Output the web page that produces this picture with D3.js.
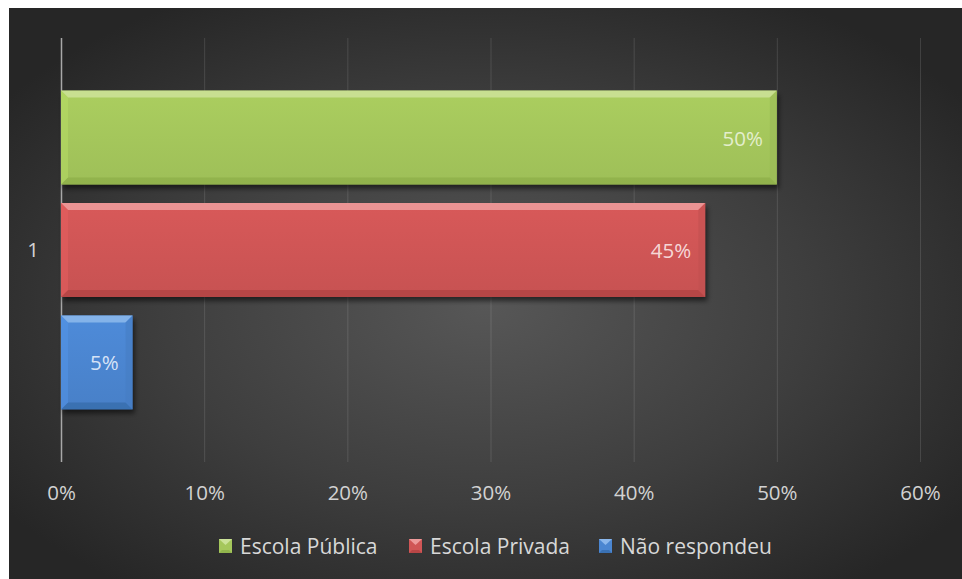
<!DOCTYPE html>
<html>
<head>
<meta charset="utf-8">
<script src="https://cdn.jsdelivr.net/npm/d3@7"></script>
<style>
  html, body { margin: 0; padding: 0; background: #ffffff; }
  svg { display: block; }
</style>
</head>
<body>
<svg id="chart" width="962" height="579"></svg>
<script>
// Share of answers per school type, one category ("1")
const categories = ["1"];
const seriesNames = ["Escola Pública", "Escola Privada", "Não respondeu"];
const seriesValues = [0.50, 0.45, 0.05];
const tickValues = [0, 0.1, 0.2, 0.3, 0.4, 0.5, 0.6];

const palette = [
  { base: "#a5c75c", light: "#cfe49e", dark: "#86a843", text: "rgba(240,246,225,0.85)" },
  { base: "#d05656", light: "#f0a2a2", dark: "#a83c3c", text: "rgba(252,232,232,0.9)" },
  { base: "#4b86d1", light: "#92bdee", dark: "#2f649f", text: "rgba(232,240,252,0.9)" }
];

const FONT = "'Open Sans', Lato, sans-serif";
const svg = d3.select("#chart");
const W = 962, H = 579;
const defs = svg.append("defs");

// Dark radial backdrop
const bg = defs.append("radialGradient").attr("id", "bgGrad")
  .attr("cx", "50%").attr("cy", "52%").attr("r", "62%");
bg.append("stop").attr("offset", "0%").attr("stop-color", "#575757");
bg.append("stop").attr("offset", "55%").attr("stop-color", "#3e3e3e");
bg.append("stop").attr("offset", "100%").attr("stop-color", "#262626");

svg.append("rect").attr("x", 9).attr("y", 8).attr("width", W - 9).attr("height", H - 8)
  .attr("fill", "url(#bgGrad)");

// Bar fill gradients and soft shadow filter
palette.forEach((c, i) => {
  const g = defs.append("linearGradient").attr("id", "barGrad" + i)
    .attr("x1", 0).attr("y1", 0).attr("x2", 0).attr("y2", 1);
  g.append("stop").attr("offset", "0%").attr("stop-color", d3.color(c.base).brighter(0.1));
  g.append("stop").attr("offset", "100%").attr("stop-color", d3.color(c.base).darker(0.12));
});
const blur = defs.append("filter").attr("id", "shadow")
  .attr("x", "-10%").attr("y", "-10%").attr("width", "120%").attr("height", "140%");
blur.append("feGaussianBlur").attr("stdDeviation", 2.5);

const margin = { left: 61, right: 42, top: 38, bottom: 117 };
const x = d3.scaleLinear().domain([0, 0.6]).range([margin.left, W - margin.right]);
const y0 = d3.scaleBand().domain(categories).range([margin.top, H - margin.bottom]).paddingInner(0).paddingOuter(0.165);
const y1 = d3.scaleBand().domain(seriesNames).range([0, y0.bandwidth()]).paddingInner(0.164);

// Vertical gridlines
const grid = svg.append("g").attr("class", "grid")
  .attr("transform", `translate(0,${H - margin.bottom})`)
  .call(d3.axisBottom(x).tickValues(tickValues).tickSize(-(H - margin.bottom - margin.top)).tickFormat(""));
grid.select(".domain").remove();
grid.selectAll("line").attr("stroke", "rgba(255,255,255,0.12)").attr("stroke-width", 1);
grid.selectAll(".tick").filter(d => d === 0).select("line")
  .attr("stroke", "#a8a8a8").attr("stroke-width", 1.5);

// Tick labels
const xAxis = svg.append("g")
  .attr("transform", `translate(0,${H - margin.bottom})`)
  .call(d3.axisBottom(x).tickValues(tickValues).tickSize(0).tickPadding(23).tickFormat(d3.format(".0%")));
xAxis.select(".domain").remove();
xAxis.selectAll("text").attr("fill", "#d2d2d2").style("font-family", FONT).style("font-size", "20.5px");

// Category label
const yAxis = svg.append("g").attr("transform", `translate(${margin.left},0)`)
  .call(d3.axisLeft(y0).tickSize(0).tickPadding(22));
yAxis.select(".domain").remove();
yAxis.selectAll("text").attr("fill", "#d2d2d2").style("font-family", FONT).style("font-size", "20.5px");

// Bars with bevelled edges
const bevel = 7;
const group = svg.append("g").attr("transform", `translate(0,${y0(categories[0])})`);
seriesNames.forEach((name, i) => {
  const v = seriesValues[i];
  const c = palette[i];
  const xa = x(0), xb = x(v);
  const ya = y1(name), yb = ya + y1.bandwidth();
  const g = group.append("g");

  g.append("rect").attr("x", xa + 2).attr("y", ya + 4).attr("width", xb - xa).attr("height", yb - ya)
    .attr("fill", "rgba(0,0,0,0.55)").attr("filter", "url(#shadow)");
  g.append("rect").attr("x", xa).attr("y", ya).attr("width", xb - xa).attr("height", yb - ya)
    .attr("fill", `url(#barGrad${i})`);
  // top bevel
  g.append("polygon").attr("points", [[xa, ya], [xb, ya], [xb - bevel, ya + bevel], [xa + bevel, ya + bevel]].join(" "))
    .attr("fill", c.light).attr("opacity", 0.8);
  // bottom bevel
  g.append("polygon").attr("points", [[xa, yb], [xb, yb], [xb - bevel, yb - bevel], [xa + bevel, yb - bevel]].join(" "))
    .attr("fill", c.dark).attr("opacity", 0.55);
  // right bevel
  g.append("polygon").attr("points", [[xb, ya], [xb, yb], [xb - bevel, yb - bevel], [xb - bevel, ya + bevel]].join(" "))
    .attr("fill", d3.color(c.base).darker(0.2)).attr("opacity", 0.6);
  // left bevel
  g.append("polygon").attr("points", [[xa, ya], [xa, yb], [xa + bevel, yb - bevel], [xa + bevel, ya + bevel]].join(" "))
    .attr("fill", d3.color(c.base).brighter(0.3)).attr("opacity", 0.5);

  g.append("text").attr("x", xb - 14).attr("y", (ya + yb) / 2)
    .attr("text-anchor", "end").attr("dominant-baseline", "central")
    .attr("fill", c.text).style("font-family", FONT).style("font-size", "20.5px")
    .text(d3.format(".0%")(v));
});

// Legend
const legendX = [219, 409, 599];
const legendY = 546;
const legend = svg.append("g");
seriesNames.forEach((name, i) => {
  const c = palette[i];
  const lg = legend.append("g").attr("transform", `translate(${legendX[i]},${legendY})`);
  lg.append("rect").attr("x", 0).attr("y", -7).attr("width", 13).attr("height", 14).attr("fill", c.base);
  lg.append("polygon").attr("points", "0,-7 13,-7 6.5,-1").attr("fill", c.light).attr("opacity", 0.9);
  lg.append("polygon").attr("points", "0,7 13,7 10,4 3,4").attr("fill", c.dark).attr("opacity", 0.6);
  lg.append("text").attr("x", 21).attr("y", 0).attr("dominant-baseline", "central")
    .attr("fill", "#d8d8d8").style("font-family", FONT).style("font-size", "21px")
    .text(name);
});
</script>
</body>
</html>
